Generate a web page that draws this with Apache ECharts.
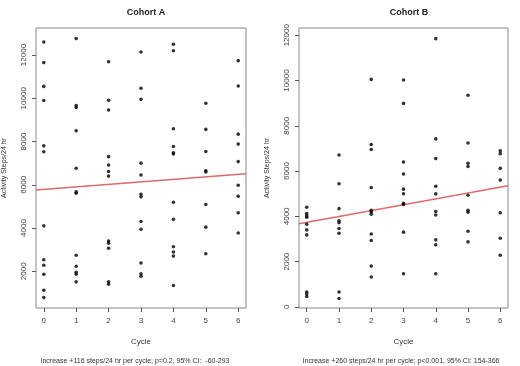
<html>
<head>
<meta charset="UTF-8">
<title>Cohort A / Cohort B</title>
<script src="https://cdn.jsdelivr.net/npm/echarts@6/dist/echarts.min.js"></script>
<style>
  html, body { margin: 0; padding: 0; background: #fff; }
  #main { width: 520px; height: 366px; }
</style>
</head>
<body>
<div id="main"></div>
<script type="text/javascript">
  // cycles shown on the x axis
  var cycles = [0, 1, 2, 3, 4, 5, 6];
  var yTicksA = [2000, 4000, 6000, 8000, 10000, 12000];
  var yTicksB = [0, 2000, 4000, 6000, 8000, 10000, 12000];

  // Cohort A: steps per cycle
  var cohortA = [
    [12600, 11650, 10550, 9900, 7800, 7530, 4100, 2530, 2280, 1860, 1120, 780],
    [12760, 9660, 9570, 8500, 6760, 5670, 5610, 2740, 2230, 1950, 1860, 1510],
    [11690, 9910, 9460, 7300, 6910, 6610, 6400, 3400, 3300, 3060, 1510, 1400],
    [12140, 10460, 9950, 7000, 6450, 5560, 5440, 4300, 3940, 2380, 1880, 1770],
    [12500, 12200, 8590, 7770, 7480, 7420, 5190, 4400, 3130, 2890, 2700, 1340],
    [9770, 8560, 7540, 6650, 6590, 5090, 4040, 2810],
    [11740, 10570, 8340, 7880, 7070, 5980, 5470, 4700, 3770]
  ];
  // Cohort B
  var cohortB = [
    [4400, 4120, 4020, 3960, 3650, 3400, 3180, 660, 570, 460],
    [6710, 5440, 4340, 3800, 3720, 3460, 3250, 660, 370],
    [10050, 7170, 6950, 5270, 4270, 4190, 4090, 3220, 2930, 1800, 1320],
    [10020, 8990, 6400, 5870, 5200, 5000, 4580, 4520, 3300, 1460],
    [11850, 7420, 6550, 5330, 4990, 4210, 4060, 2960, 2740, 1460],
    [9350, 7240, 6340, 6200, 4930, 4270, 4180, 3340, 2870],
    [6900, 6770, 6120, 5600, 4160, 3030, 2280]
  ];

  // linear fits [intercept, slope per cycle]
  var fitA = [5790, 116];
  var fitB = [3730, 260];

  var captionA = 'Increase +116 steps/24 hr per cycle; p=0.2, 95% CI:  -60-293';
  var captionB = 'Increase +260 steps/24 hr per cycle; p<0.001, 95% CI: 154-366';

  var xMin = -0.24, xMax = 6.24;

  function toPoints(groups) {
    var pts = [];
    groups.forEach(function (vals, i) {
      vals.forEach(function (v) { pts.push([cycles[i], v]); });
    });
    return pts;
  }
  function fitLine(fit) {
    return [[xMin, fit[0] + fit[1] * xMin], [xMax, fit[0] + fit[1] * xMax]];
  }

  var font = 'Liberation Sans, Arial, sans-serif';
  var gray = '#444';

  function xAxisFor(idx) {
    return {
      type: 'value', gridIndex: idx, min: xMin, max: xMax,
      name: 'Cycle', nameLocation: 'middle', nameGap: 30,
      nameTextStyle: { fontFamily: font, fontSize: 8, color: '#333' },
      axisLine: { show: false, onZero: false },
      axisTick: { show: true, length: 4, customValues: cycles, lineStyle: { color: '#555' } },
      axisLabel: { customValues: cycles, margin: 9, fontFamily: font, fontSize: 8, color: gray },
      splitLine: { show: false }
    };
  }
  function yAxisFor(idx, min, max, ticks) {
    return {
      type: 'value', gridIndex: idx, min: min, max: max,
      name: 'Activity Steps/24 hr', nameLocation: 'middle', nameGap: 28, nameRotate: 90,
      nameTextStyle: { fontFamily: font, fontSize: 7, color: '#333' },
      axisLine: { show: false, onZero: false },
      axisTick: { show: true, length: 4, customValues: ticks, lineStyle: { color: '#555' } },
      axisLabel: {
        customValues: ticks, rotate: 90, margin: 8, fontFamily: font, fontSize: 8, color: gray,
        formatter: function (v) { return String(v); }
      },
      splitLine: { show: false }
    };
  }
  function scatter(idx, data) {
    return {
      type: 'scatter', xAxisIndex: idx, yAxisIndex: idx, data: data,
      symbol: 'circle', symbolSize: 3.6, itemStyle: { color: '#000' }, silent: true
    };
  }
  function line(idx, data) {
    return {
      type: 'line', xAxisIndex: idx, yAxisIndex: idx, data: data, symbol: 'none',
      lineStyle: { color: '#de6a6a', width: 1.5 }, silent: true, z: 1
    };
  }

  var myChart = echarts.init(document.getElementById('main'), null, { renderer: 'canvas' });
  var option = {
    backgroundColor: '#fff',
    animation: false,
    title: [
      { text: 'Cohort A', left: 141, top: 3, textAlign: 'center',
        textStyle: { fontFamily: font, fontSize: 9, fontWeight: 'bold', color: '#222' } },
      { text: 'Cohort B', left: 404, top: 3, textAlign: 'center',
        textStyle: { fontFamily: font, fontSize: 9, fontWeight: 'bold', color: '#222' } },
      { text: captionA, left: 130, top: 353, textAlign: 'center',
        textStyle: { fontFamily: font, fontSize: 7, fontWeight: 'normal', color: '#333' } },
      { text: captionB, left: 396, top: 353, textAlign: 'center',
        textStyle: { fontFamily: font, fontSize: 7, fontWeight: 'normal', color: '#333' } }
    ],
    grid: [
      { left: 36, right: 274, top: 28, bottom: 58, show: true, borderColor: '#888', borderWidth: 1 },
      { left: 299, right: 12, top: 28, bottom: 58, show: true, borderColor: '#888', borderWidth: 1 }
    ],
    xAxis: [xAxisFor(0), xAxisFor(1)],
    yAxis: [yAxisFor(0, 300, 13250, yTicksA), yAxisFor(1, -50, 12320, yTicksB)],
    series: [
      line(0, fitLine(fitA)),
      scatter(0, toPoints(cohortA)),
      line(1, fitLine(fitB)),
      scatter(1, toPoints(cohortB))
    ]
  };
  myChart.setOption(option);
</script>
</body>
</html>
